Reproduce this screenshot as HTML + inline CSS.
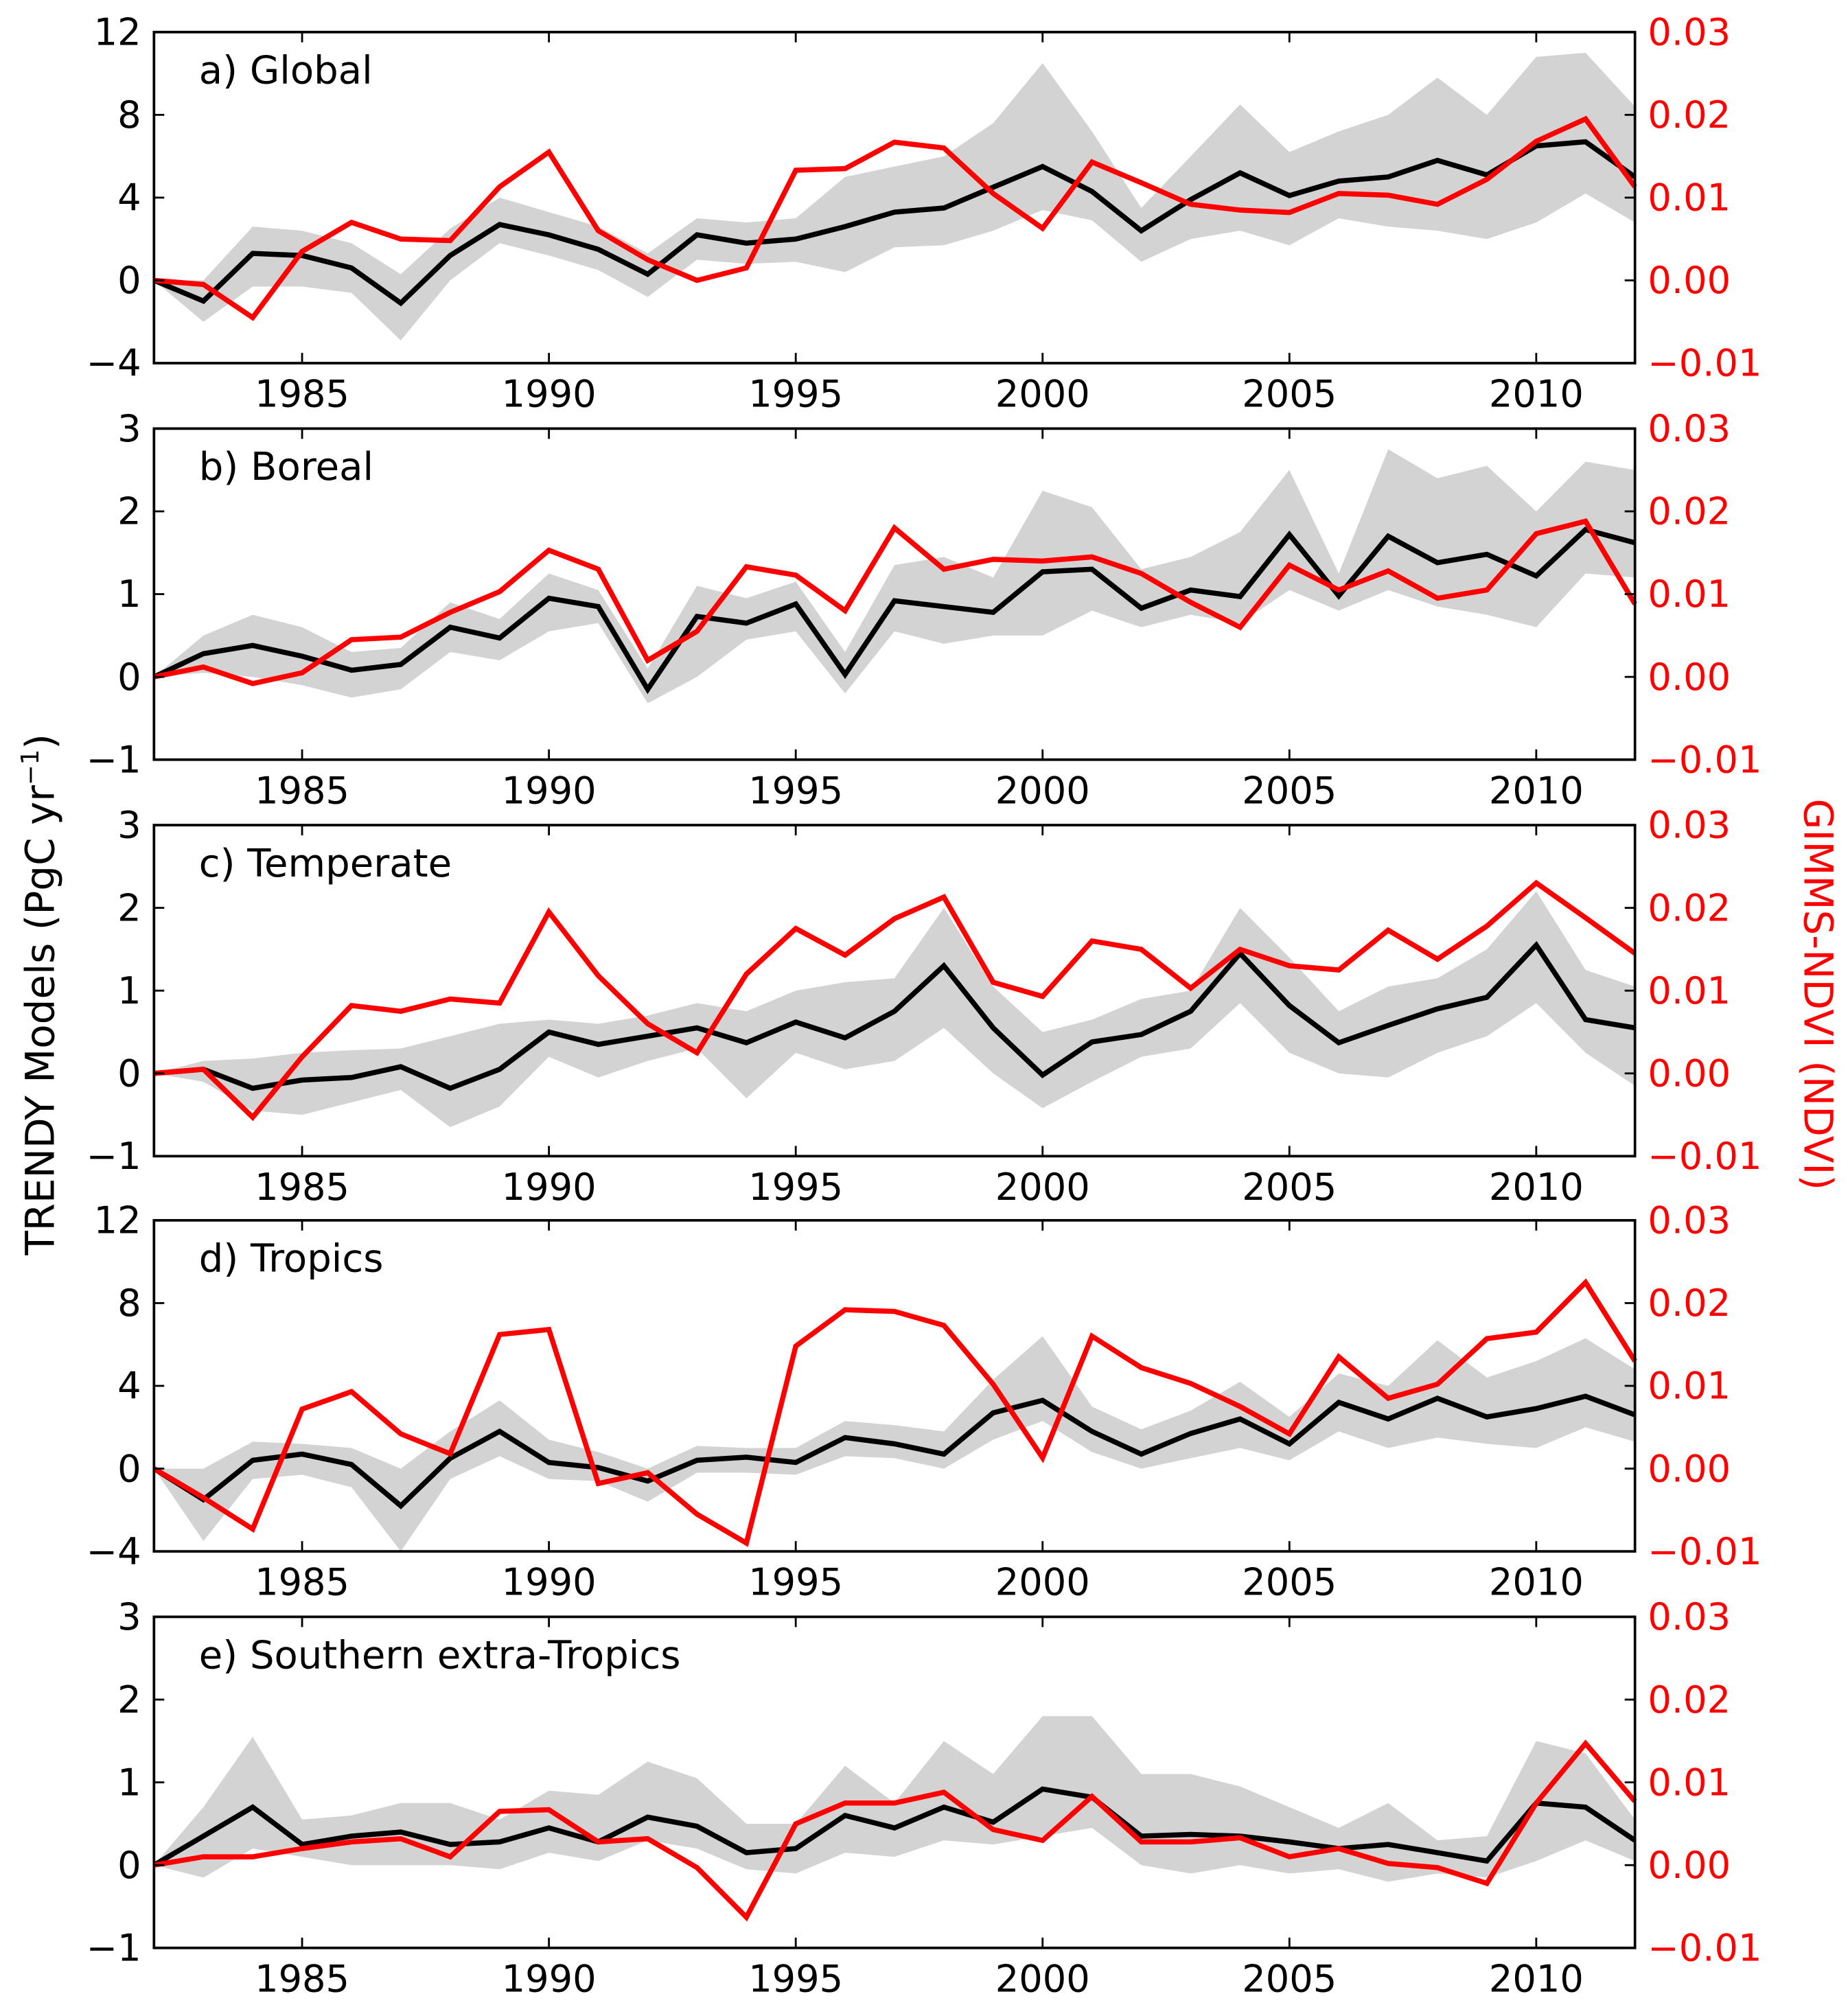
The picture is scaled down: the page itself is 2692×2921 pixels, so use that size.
<!DOCTYPE html>
<html><head><meta charset="utf-8"><style>
html,body{margin:0;padding:0;background:#fff;}
svg{display:block;font-family:"DejaVu Sans","Liberation Sans",sans-serif;}
</style></head><body>
<svg id="chart" width="2692" height="2921" viewBox="0 0 1440 1562.5" xmlns="http://www.w3.org/2000/svg">
<text transform="translate(42,775) rotate(-90)" text-anchor="middle" font-size="31" fill="#000">TRENDY Models (PgC yr<tspan dy="-12" font-size="19">−1</tspan><tspan dy="12">)</tspan></text>
<text transform="translate(1406,775) rotate(90)" text-anchor="middle" font-size="31" fill="#ff0000">GIMMS-NDVI (NDVI)</text>
</svg>
<script>
const years=[];for(let y=1982;y<=2012;y++)years.push(y);
const xTicks=[1985,1990,1995,2000,2005,2010];
const rightTicks=[-0.01,0.00,0.01,0.02,0.03];
const titles=["a) Global","b) Boreal","c) Temperate","d) Tropics","e) Southern extra-Tropics"];
const leftRanges=[[-4,12],[-1,3],[-1,3],[-4,12],[-1,3]];
const leftTicks=[[-4,0,4,8,12],[-1,0,1,2,3],[-1,0,1,2,3],[-4,0,4,8,12],[-1,0,1,2,3]];
const meanA=[0,-1,1.3,1.2,0.6,-1.1,1.2,2.7,2.2,1.5,0.3,2.2,1.8,2.0,2.6,3.3,3.5,4.5,5.5,4.3,2.4,3.9,5.2,4.1,4.8,5.0,5.8,5.1,6.5,6.7,5.0];
const upA=[0,0,2.6,2.4,1.8,0.3,2.5,4.0,3.3,2.6,1.3,3.0,2.8,3.0,5.0,5.5,6.0,7.6,10.5,7.2,3.5,6.0,8.5,6.2,7.2,8.0,9.8,8.0,10.8,11.0,8.4];
const loA=[0,-2.0,-0.3,-0.3,-0.6,-2.9,0.0,1.8,1.2,0.5,-0.8,1.0,0.8,0.9,0.4,1.6,1.7,2.4,3.4,2.9,0.9,2.0,2.4,1.7,3.0,2.6,2.4,2.0,2.8,4.2,2.8];
const ndviA=[0,-0.0005,-0.0045,0.0035,0.007,0.005,0.0048,0.0113,0.0155,0.006,0.0025,0,0.0015,0.0133,0.0135,0.0167,0.016,0.0105,0.0063,0.0143,0.0118,0.0092,0.0085,0.0082,0.0105,0.0103,0.0092,0.0122,0.0168,0.0195,0.0113];
const meanB=[0,0.28,0.38,0.25,0.08,0.15,0.6,0.47,0.95,0.85,-0.15,0.73,0.65,0.88,0.03,0.92,0.85,0.78,1.27,1.3,0.83,1.05,0.97,1.72,0.98,1.7,1.38,1.48,1.22,1.78,1.62];
const upB=[0,0.5,0.75,0.6,0.3,0.35,0.9,0.7,1.25,1.05,0.1,1.1,0.95,1.15,0.3,1.35,1.45,1.2,2.25,2.05,1.3,1.45,1.75,2.5,1.25,2.75,2.4,2.55,2.0,2.6,2.5];
const loB=[0,0.05,0.0,-0.1,-0.25,-0.15,0.3,0.2,0.55,0.65,-0.32,0.0,0.45,0.55,-0.2,0.55,0.4,0.5,0.5,0.8,0.6,0.75,0.65,1.05,0.8,1.05,0.85,0.75,0.6,1.25,1.2];
const ndviB=[0,0.0012,-0.0008,0.0005,0.0045,0.0048,0.0078,0.0103,0.0153,0.013,0.002,0.0055,0.0133,0.0123,0.008,0.018,0.013,0.0142,0.014,0.0145,0.0125,0.009,0.006,0.0135,0.0105,0.0128,0.0095,0.0105,0.0173,0.0188,0.0088];
const meanC=[0,0.05,-0.18,-0.08,-0.05,0.08,-0.18,0.05,0.5,0.35,0.45,0.55,0.37,0.62,0.43,0.75,1.3,0.55,-0.02,0.38,0.47,0.75,1.45,0.82,0.37,0.58,0.78,0.92,1.55,0.65,0.55];
const upC=[0,0.15,0.18,0.25,0.28,0.3,0.45,0.6,0.65,0.6,0.7,0.85,0.75,1.0,1.1,1.15,2.0,1.05,0.5,0.65,0.9,1.0,2.0,1.4,0.75,1.05,1.15,1.5,2.2,1.25,1.05];
const loC=[0,-0.1,-0.45,-0.5,-0.35,-0.2,-0.65,-0.4,0.2,-0.05,0.15,0.3,-0.3,0.25,0.05,0.15,0.55,0.0,-0.42,-0.1,0.2,0.3,0.85,0.25,0.0,-0.05,0.25,0.45,0.85,0.25,-0.15];
const ndviC=[0,0.0005,-0.0053,0.002,0.0082,0.0075,0.009,0.0085,0.0195,0.0118,0.006,0.0025,0.012,0.0175,0.0143,0.0187,0.0213,0.011,0.0093,0.016,0.015,0.0103,0.015,0.013,0.0125,0.0173,0.0138,0.0178,0.023,0.0188,0.0145];
const meanD=[0,-1.5,0.4,0.7,0.2,-1.8,0.5,1.8,0.3,0.05,-0.6,0.4,0.55,0.3,1.5,1.2,0.7,2.7,3.3,1.8,0.7,1.7,2.4,1.2,3.2,2.4,3.4,2.5,2.9,3.5,2.6];
const upD=[0,0,1.3,1.2,1.0,0,1.8,3.3,1.4,0.8,0.0,1.1,1.0,1.0,2.3,2.1,1.8,4.3,6.4,3.0,1.9,2.8,4.2,2.5,4.6,4.0,6.2,4.4,5.2,6.3,4.8];
const loD=[0,-3.5,-0.5,-0.3,-0.9,-4.0,-0.5,0.6,-0.5,-0.6,-1.6,-0.2,-0.2,-0.3,0.6,0.5,0,1.4,2.3,0.8,0.0,0.5,1.0,0.4,1.8,1.0,1.5,1.2,1.0,2.0,1.3];
const ndviD=[0,-0.0035,-0.0073,0.0072,0.0093,0.0042,0.0018,0.0162,0.0168,-0.0018,-0.0005,-0.0055,-0.009,0.0148,0.0192,0.019,0.0173,0.0102,0.0013,0.016,0.0122,0.0103,0.0075,0.0042,0.0135,0.0085,0.0102,0.0157,0.0165,0.0225,0.013];
const meanE=[0,0.35,0.7,0.25,0.35,0.4,0.25,0.28,0.45,0.28,0.58,0.47,0.15,0.2,0.6,0.45,0.7,0.52,0.92,0.82,0.35,0.37,0.35,0.28,0.2,0.25,0.15,0.05,0.75,0.7,0.3];
const upE=[0,0.7,1.55,0.55,0.6,0.75,0.75,0.55,0.9,0.85,1.25,1.05,0.5,0.5,1.2,0.75,1.5,1.1,1.8,1.8,1.1,1.1,0.95,0.7,0.45,0.75,0.3,0.35,1.5,1.35,0.55];
const loE=[0,-0.15,0.2,0.1,0.0,0.0,0.0,-0.05,0.15,0.05,0.3,0.2,-0.05,-0.1,0.15,0.1,0.3,0.25,0.35,0.45,0.0,-0.1,0.0,-0.1,-0.05,-0.2,-0.1,-0.15,0.05,0.3,0.05];
const ndviE=[0,0.001,0.001,0.002,0.0028,0.0032,0.001,0.0065,0.0067,0.0028,0.0032,-0.0003,-0.0063,0.005,0.0075,0.0075,0.0088,0.0043,0.003,0.0083,0.0028,0.0028,0.0033,0.001,0.002,0.0002,-0.0003,-0.0022,0.0075,0.0147,0.0077];
const means=[meanA,meanB,meanC,meanD,meanE];
const ups=[upA,upB,upC,upD,upE];
const los=[loA,loB,loC,loD,loE];
const ndvis=[ndviA,ndviB,ndviC,ndviD,ndviE];
const keys=["global","boreal","temperate","tropics","southern"];

const NS="http://www.w3.org/2000/svg";
const svg=document.getElementById('chart');
const L=120,R=1274,tops=[25,334,643,951,1260],H=258;
const xS=y=>L+(y-1982)/(2012-1982)*(R-L);
function mk(t,a,p){const e=document.createElementNS(NS,t);for(const k in a)e.setAttribute(k,a[k]);(p||svg).appendChild(e);return e;}
for(let i=0;i<5;i++){
  const top=tops[i],bot=top+H,[lo,hi]=leftRanges[i];
  const yL=v=>bot-(v-lo)/(hi-lo)*H;
  const yR=v=>bot-(v+0.01)/0.04*H;
  const g=mk('g',{});
  
  
  let d='';
  years.forEach((y,j)=>{d+=(j?'L':'M')+xS(y).toFixed(1)+','+yL(ups[i][j]).toFixed(1);});
  for(let j=years.length-1;j>=0;j--)d+='L'+xS(years[j]).toFixed(1)+','+yL(los[i][j]).toFixed(1);
  const band=mk('path',{d:d+'Z',fill:'#d3d3d3',stroke:'none'},g);
  
  
  const ml=mk('polyline',{points:years.map((y,j)=>xS(y).toFixed(1)+','+yL(means[i][j]).toFixed(1)).join(' '),fill:'none',stroke:'#000','stroke-width':4,'stroke-linejoin':'miter'},g);
  
  
  const rl=mk('polyline',{points:years.map((y,j)=>xS(y).toFixed(1)+','+yR(ndvis[i][j]).toFixed(1)).join(' '),fill:'none',stroke:'#ff0000','stroke-width':4},g);
  
  
  const fr=mk('rect',{x:L,y:top,width:R-L,height:H,fill:'none',stroke:'#000','stroke-width':2},g);
  
  
  xTicks.forEach(t=>{
    const x=xS(t);
    mk('line',{x1:x,x2:x,y1:bot,y2:bot-8,stroke:'#000','stroke-width':1.5},g);
    mk('line',{x1:x,x2:x,y1:top,y2:top+8,stroke:'#000','stroke-width':1.5},g);
    const tx=mk('text',{x:x,y:bot+34,'text-anchor':'middle','font-size':29},g);
    tx.textContent=t;
    
    
  });
  leftTicks[i].forEach(t=>{
    const y=yL(t);
    mk('line',{x1:L,x2:L+8,y1:y,y2:y,stroke:'#000','stroke-width':1.5},g);
    const tx=mk('text',{x:L-10,y:y+10,'text-anchor':'end','font-size':29},g);
    tx.textContent=t<0?'−'+(-t):t;
    
    
  });
  rightTicks.forEach(t=>{
    const y=yR(t);
    mk('line',{x1:R,x2:R-8,y1:y,y2:y,stroke:'#000','stroke-width':1.5},g);
    const tx=mk('text',{x:R+10,y:y+10,'text-anchor':'start','font-size':29,fill:'#ff0000'},g);
    tx.textContent=t<0?'−'+(-t).toFixed(2):t.toFixed(2);
    
    
  });
  const ti=mk('text',{x:155,y:top+40,'font-size':30},g);
  ti.textContent=titles[i];
  
  
}
</script>
</body></html>
